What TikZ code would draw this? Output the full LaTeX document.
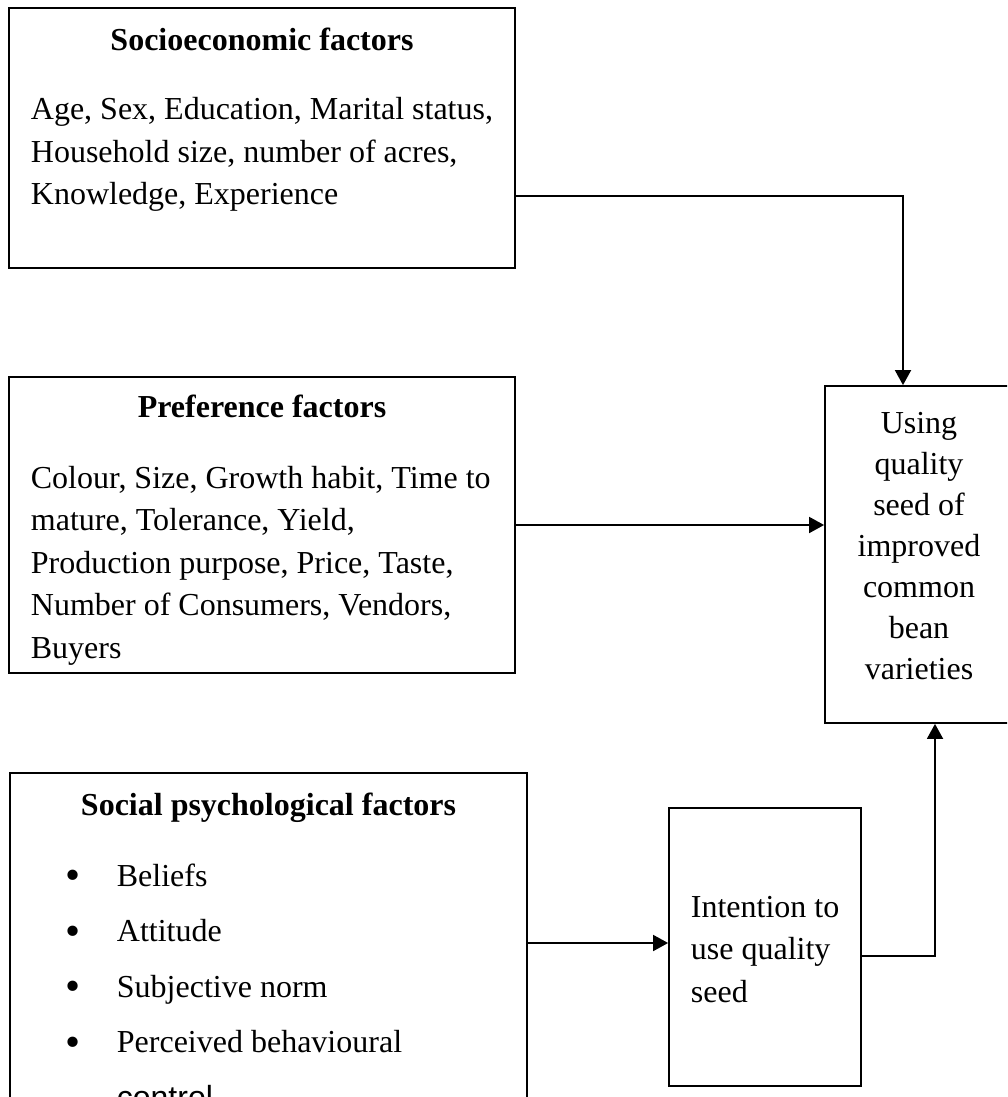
\documentclass[tikz,border=0pt]{standalone}
\usepackage{fontspec}
\setmainfont{Liberation Serif}
\newfontfamily\cutfont{Liberation Sans}
\usetikzlibrary{arrows.meta}

\def\linesep{42}

\begin{document}
\begin{tikzpicture}[x=1pt,y=-1pt,line width=1.8pt,>={Triangle[width=16pt,length=15pt]},
    font=\fontsize{32}{40}\selectfont]
    \tikzstyle{block}=[draw,rectangle,inner sep=0pt]
    \tikzstyle{heading}=[font=\fontsize{32}{40}\selectfont\bfseries,anchor=base,inner sep=0pt]
    \tikzstyle{item}=[anchor=base west,inner sep=0pt]
    \tikzstyle{centred}=[anchor=base,inner sep=0pt]
    \tikzstyle{dot}=[centred,font=\fontsize{43}{43}\selectfont]
    \tikzstyle{link}=[->]

    \useasboundingbox (0,0) rectangle (1007,1097);
    \clip (0,0) rectangle (1007,1097);

    % Draw the boxes
    \node[block, minimum width=506pt, minimum height=260pt] (socio) at (262,138) {};
    \node[block, minimum width=506pt, minimum height=296pt] (pref) at (262,525) {};
    \node[block, minimum width=188pt, minimum height=337pt] (using) at (919,554.5) {};
    \node[block, minimum width=517pt, minimum height=357pt] (social) at (268.5,951.5) {};
    \node[block, minimum width=192pt, minimum height=278pt] (intent) at (765,947) {};

    % Socioeconomic factors
    \node[heading] (socio-head) at (262,51) {Socioeconomic factors};
    \foreach \txt [count=\i] in {{Age, Sex, Education, Marital status,},
        {Household size, number of acres,}, {Knowledge, Experience}}
        \node[item] (socio-\i) at (30,120+\linesep*\i-\linesep) {\txt};

    % Preference factors
    \node[heading] (pref-head) at (262,417) {Preference factors};
    \foreach \txt [count=\i] in {{Colour, Size, Growth habit, Time to},
        {mature, Tolerance, Yield,}, {Production purpose, Price, Taste,},
        {Number of Consumers, Vendors,}, {Buyers}}
        \node[item] (pref-\i) at (30,488+42.5*\i-42.5) {\txt};

    % Social psychological factors
    \node[heading] (social-head) at (268.5,815) {Social psychological factors};
    \foreach \txt [count=\i] in {Beliefs, Attitude, Subjective norm, Perceived behavioural}
    {
        \node[dot] (bullet-\i) at (73,889.5+55.5*\i-55.5) {\textbullet};
        \node[item] (social-\i) at (116,886+55.5*\i-55.5) {\txt};
    }
    \node[item, font=\fontsize{32}{40}\cutfont] (social-5) at (116,1108) {control};

    % Intention and outcome
    \foreach \txt [count=\i] in {Intention to, use quality, seed}
        \node[item] (intent-\i) at (690,917+42.5*\i-42.5) {\txt};
    \foreach \txt [count=\i] in {Using, quality, seed of, improved, common, bean, varieties}
        \node[centred] (using-\i) at (919,433+41*\i-41) {\txt};

    % Connect the boxes
    \coordinate (intent-in) at ([yshift=4pt]intent.west);
    \draw[link] ([yshift=-58pt]socio.east) -| ([xshift=-16pt]using.north);
    \draw[link] (pref.east) -- (pref.east -| using.west);
    \draw[link] (social.east |- intent-in) -- (intent-in);
    \draw[link] ([yshift=-9pt]intent.east) -| ([xshift=16pt]using.south);
\end{tikzpicture}
\end{document}
